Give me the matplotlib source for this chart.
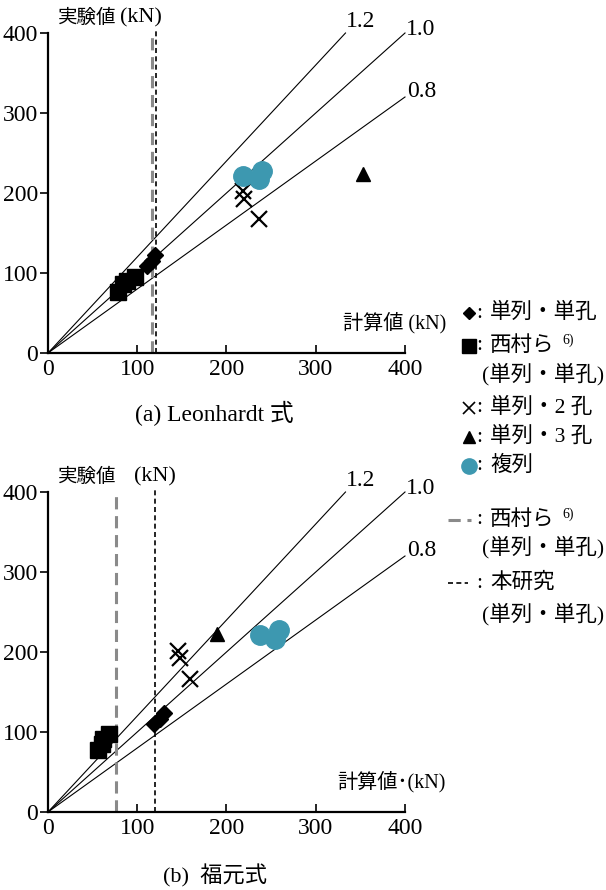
import matplotlib
matplotlib.use("Agg")
import matplotlib.pyplot as plt
from matplotlib.lines import Line2D

plt.rcParams['font.family'] = ['Liberation Serif', 'Noto Sans CJK JP']

# ratio lines (experiment / calculation)
ratios = [1.2, 1.0, 0.8]
ratio_labels = ['1.2', '1.0', '0.8']

# (a) Leonhardt
a_single_x = [111, 116, 120]
a_single_y = [109, 115, 123]
a_nishi_x = [78, 84, 88, 97]
a_nishi_y = [76, 86, 90, 95]
a_two_x = [219, 220, 236]
a_two_y = [202, 193, 167]
a_three_x = [353]
a_three_y = [224]
a_multi_x = [219, 236, 240]
a_multi_y = [221, 217, 228]
a_vline_nishi = 117
a_vline_this = 121

# (b) Fukumoto
b_single_x = [119, 125, 130]
b_single_y = [110, 116, 124]
b_nishi_x = [56, 60, 62, 68]
b_nishi_y = [77, 85, 91, 97]
b_two_x = [146, 148, 159]
b_two_y = [201, 193, 166]
b_three_x = [189]
b_three_y = [223]
b_multi_x = [237, 254, 259]
b_multi_y = [221, 216, 228]
b_vline_nishi = 76
b_vline_this = 120

ticks = [0, 100, 200, 300, 400]
teal = '#3d98b0'
gray = '#8a8a8a'
num_fs = 17
jp_fs = 14.5

# label offsets (dx, dy) in data units, for 1.2 / 1.0 / 0.8
label_off = [(1, 14), (1, 4), (2, 7)]


def draw_panel(ax, single, nishi, two, three, multi, vn, vt, xlabel, kn_x):
    for r, lab, (dx, dy) in zip(ratios, ratio_labels, label_off):
        xe = min(400, 400 / r)
        ax.plot([0, xe], [0, xe * r], color='black', lw=0.8, clip_on=False)
        ax.text(xe + dx, xe * r + dy, lab, fontsize=num_fs, ha='left', va='center')
    ax.plot([vn, vn], [0, 402], color=gray, lw=2.2, ls=(0, (4, 2.2)), clip_on=False)
    ax.plot([vt, vt], [0, 405], color='black', lw=1.2, ls=(0, (3, 2)), clip_on=False)

    ax.plot(*nishi, ls='none', marker='s', ms=12, color='black', clip_on=False)
    ax.plot(*single, ls='none', marker='D', ms=8, color='black', clip_on=False)
    ax.plot(*two, ls='none', marker='x', ms=11, mew=1.6, color='black', clip_on=False)
    ax.plot(*three, ls='none', marker='^', ms=10, color='black', clip_on=False)
    ax.plot(*multi, ls='none', marker='o', ms=14, color=teal, clip_on=False)

    ax.set_xlim(0, 400)
    ax.set_ylim(0, 400)
    ax.set_xticks(ticks)
    ax.set_yticks(ticks)
    ax.set_xticklabels([str(t) for t in ticks], fontsize=num_fs)
    ax.set_yticklabels([str(t) for t in ticks], fontsize=num_fs)
    ax.tick_params(axis='x', direction='in', length=6, width=1.2, pad=4)
    ax.tick_params(axis='y', direction='out', length=6, width=1.2, pad=1)
    for s in ['top', 'right']:
        ax.spines[s].set_visible(False)
    for s in ['left', 'bottom']:
        ax.spines[s].set_linewidth(1.6)

    ax.text(446, 38, xlabel, fontsize=jp_fs, ha='right', va='center', clip_on=False)
    ax.text(11, 419, '実験値', fontsize=14, ha='left', va='center')
    ax.text(kn_x, 419, '(kN)', fontsize=16, ha='left', va='center')


fig = plt.figure(figsize=(6.06, 8.90), dpi=100)
ax1 = fig.add_axes([48 / 606, 1 - 353 / 890, 357 / 606, 320 / 890])
ax2 = fig.add_axes([48 / 606, 1 - 812 / 890, 357 / 606, 320 / 890])

draw_panel(ax1, (a_single_x, a_single_y), (a_nishi_x, a_nishi_y), (a_two_x, a_two_y),
           (a_three_x, a_three_y), (a_multi_x, a_multi_y), a_vline_nishi, a_vline_this,
           '計算値 (kN)', 81)
draw_panel(ax2, (b_single_x, b_single_y), (b_nishi_x, b_nishi_y), (b_two_x, b_two_y),
           (b_three_x, b_three_y), (b_multi_x, b_multi_y), b_vline_nishi, b_vline_this,
           '計算値･(kN)', 96)

fig.text(214 / 606, 1 - 413 / 890, '(a) Leonhardt 式', fontsize=17, ha='center', va='center')
fig.text(215 / 606, 1 - 876 / 890, '(b)  福元式', fontsize=16, ha='center', va='center')


# legend, built by hand in pixel positions
def fx(px):
    return px / 606


def fy(py):
    return 1 - py / 890


leg_fs = 15.5


def leg_row(py, body, sup=None, sup_x=None):
    fig.text(fx(476), fy(py), ':', fontsize=leg_fs, va='center')
    fig.text(fx(490), fy(py), body, fontsize=leg_fs, va='center')
    if sup:
        fig.text(fx(sup_x), fy(py - 6), sup, fontsize=10, va='center')


fig.add_artist(Line2D([fx(469)], [fy(313)], marker='D', ms=6.5, color='black', ls='none'))
leg_row(313, '単列・単孔')
fig.add_artist(Line2D([fx(469)], [fy(346)], marker='s', ms=10, color='black', ls='none'))
leg_row(346, '西村ら', '6)', 562)
fig.text(fx(482), fy(374), '(単列・単孔)', fontsize=leg_fs, va='center')
fig.add_artist(Line2D([fx(469)], [fy(408)], marker='x', ms=9, mew=1.2, color='black', ls='none'))
leg_row(408, '単列・2 孔')
fig.add_artist(Line2D([fx(469)], [fy(437)], marker='^', ms=8, color='black', ls='none'))
leg_row(437, '単列・3 孔')
fig.add_artist(Line2D([fx(469)], [fy(466)], marker='o', ms=11, color=teal, ls='none'))
leg_row(466, '複列')

fig.add_artist(Line2D([fx(448), fx(471)], [fy(520), fy(520)], color=gray, lw=2.2, ls=(0, (4, 2.2))))
leg_row(520, '西村ら', '6)', 562)
fig.text(fx(482), fy(547), '(単列・単孔)', fontsize=leg_fs, va='center')
fig.add_artist(Line2D([fx(448), fx(468)], [fy(583), fy(583)], color='black', lw=1.2, ls=(0, (3, 2))))
leg_row(583, '本研究')
fig.text(fx(482), fy(614), '(単列・単孔)', fontsize=leg_fs, va='center')

fig.savefig('out.png', dpi=100)
